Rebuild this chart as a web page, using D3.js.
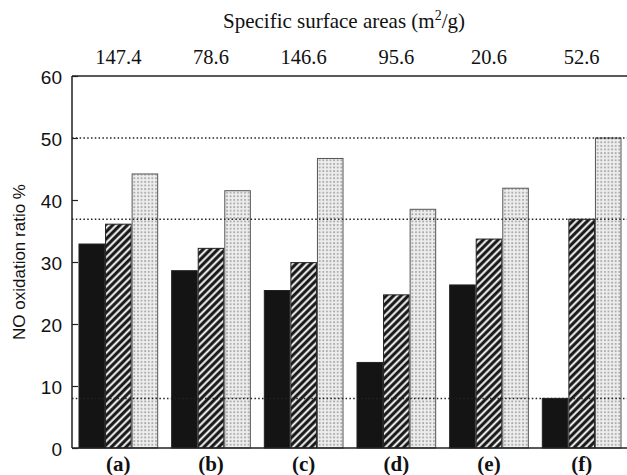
<!DOCTYPE html>
<html>
<head>
<meta charset="utf-8">
<script src="https://cdn.jsdelivr.net/npm/d3@7"></script>
<style>
  body { margin: 0; background: #fff; }
  svg { display: block; }
</style>
</head>
<body>
<svg id="chart" width="627" height="475"></svg>
<script>
// catalysts and their measured values
var samples = ["(a)", "(b)", "(c)", "(d)", "(e)", "(f)"];
var surfaceAreas = ["147.4", "78.6", "146.6", "95.6", "20.6", "52.6"];
var solidSeries = [32.9, 28.6, 25.4, 13.8, 26.3, 8.0];
var hatchSeries = [36.1, 32.2, 29.9, 24.7, 33.7, 36.9];
var dotSeries = [44.2, 41.5, 46.7, 38.5, 41.9, 50.0];
var refLines = [50.0, 36.9, 8.0];
var yTicks = [0, 10, 20, 30, 40, 50, 60];

var margin = {left: 72, top: 76, right: -1, bottom: 27};
var width = 627, height = 475;

var svg = d3.select("#chart");
var defs = svg.append("defs");

// diagonal stripes
var hatch = defs.append("pattern")
	.attr("id", "hatch")
	.attr("patternUnits", "userSpaceOnUse")
	.attr("width", 5.2)
	.attr("height", 5.2)
	.attr("patternTransform", "rotate(45)");
hatch.append("rect").attr("width", 5.2).attr("height", 5.2).attr("fill", "#fff");
hatch.append("rect").attr("x", 0).attr("width", 2.8).attr("height", 5.2).attr("fill", "#1a1a1a");
hatch.append("rect").attr("x", 2.8).attr("width", 0.6).attr("height", 5.2).attr("fill", "#888");
hatch.append("rect").attr("x", 4.6).attr("width", 0.6).attr("height", 5.2).attr("fill", "#888");

// grey dots
var dots = defs.append("pattern")
	.attr("id", "dots")
	.attr("patternUnits", "userSpaceOnUse")
	.attr("width", 3.6)
	.attr("height", 3.6);
dots.append("rect").attr("width", 3.6).attr("height", 3.6).attr("fill", "#eeeeee");
dots.append("rect").attr("x", 1).attr("y", 1).attr("width", 1.8).attr("height", 1.8).attr("fill", "#a8a8a8");

var x = d3.scaleBand()
	.domain(samples)
	.range([margin.left, width - margin.right])
	.paddingInner(0.14)
	.paddingOuter(0.07);

var series = ["solid", "hatch", "dot"];
var xs = d3.scaleBand()
	.domain(series)
	.range([0, x.bandwidth()]);

var y = d3.scaleLinear()
	.domain([0, 60])
	.range([height - margin.bottom, margin.top]);

var rows = samples.map(function(s, i){
	return {name: s, values: [solidSeries[i], hatchSeries[i], dotSeries[i]]};
});

var fills = {solid: "#141414", hatch: "url(#hatch)", dot: "url(#dots)"};
var strokes = {solid: "#222", hatch: "#222", dot: "#555"};

var groups = svg.selectAll("g.group")
	.data(rows)
	.enter().append("g")
	.attr("class", "group")
	.attr("transform", function(d){ return "translate(" + x(d.name) + ",0)"; });

groups.selectAll("rect")
	.data(function(d){ return d.values.map(function(v, k){ return {key: series[k], value: v}; }); })
	.enter().append("rect")
	.attr("x", function(d){ return xs(d.key) + 0.5; })
	.attr("y", function(d){ return y(d.value); })
	.attr("width", xs.bandwidth() - 1)
	.attr("height", function(d){ return y(0) - y(d.value); })
	.attr("fill", function(d){ return fills[d.key]; })
	.attr("stroke", function(d){ return strokes[d.key]; })
	.attr("stroke-width", 1);

// dotted reference lines
svg.selectAll("line.ref")
	.data(refLines)
	.enter().append("line")
	.attr("class", "ref")
	.attr("x1", margin.left)
	.attr("x2", width)
	.attr("y1", function(d){ return y(d); })
	.attr("y2", function(d){ return y(d); })
	.attr("stroke", "#222")
	.attr("stroke-width", 1.5)
	.attr("stroke-dasharray", "1.5,2.3");

// frame
var frame = svg.append("g").attr("fill", "none").attr("stroke", "#222").attr("stroke-width", 1.5);
frame.append("line").attr("x1", margin.left).attr("x2", width).attr("y1", y(60)).attr("y2", y(60));
frame.append("line").attr("x1", margin.left).attr("x2", width).attr("y1", y(0)).attr("y2", y(0));
frame.append("line").attr("x1", margin.left).attr("x2", margin.left).attr("y1", y(60)).attr("y2", y(0));

// y axis with inward ticks
var yAxis = svg.append("g")
	.attr("transform", "translate(" + margin.left + ",0)")
	.call(d3.axisLeft(y).tickValues(yTicks).tickSize(-6).tickPadding(10));
yAxis.select(".domain").remove();
yAxis.selectAll(".tick line").attr("stroke", "#222").attr("stroke-width", 1.2);
yAxis.selectAll(".tick text")
	.attr("font-family", "Liberation Sans, Arial, sans-serif")
	.attr("font-size", 19)
	.attr("fill", "#111")
	.attr("dy", "0.42em");

svg.append("text")
	.attr("transform", "translate(25," + ((y(0) + y(60)) / 2) + ") rotate(-90)")
	.attr("text-anchor", "middle")
	.attr("font-family", "Liberation Sans, Arial, sans-serif")
	.attr("font-size", 17)
	.attr("fill", "#111")
	.text("NO oxidation ratio %");

// sample labels below
svg.selectAll("text.sample")
	.data(samples)
	.enter().append("text")
	.attr("class", "sample")
	.attr("x", function(d){ return x(d) + x.bandwidth() / 2; })
	.attr("y", 471)
	.attr("text-anchor", "middle")
	.attr("font-family", "Liberation Serif, Times New Roman, serif")
	.attr("font-weight", "bold")
	.attr("font-size", 21)
	.attr("fill", "#111")
	.text(function(d){ return d; });

// surface areas on top
svg.selectAll("text.area")
	.data(surfaceAreas)
	.enter().append("text")
	.attr("class", "area")
	.attr("x", function(d, i){ return x(samples[i]) + x.bandwidth() / 2; })
	.attr("y", 64)
	.attr("text-anchor", "middle")
	.attr("font-family", "Liberation Serif, Times New Roman, serif")
	.attr("font-size", 20.5)
	.attr("fill", "#111")
	.text(function(d){ return d; });

var title = svg.append("text")
	.attr("x", 344)
	.attr("y", 28)
	.attr("text-anchor", "middle")
	.attr("font-family", "Liberation Serif, Times New Roman, serif")
	.attr("font-size", 21)
	.attr("fill", "#111");
title.append("tspan").text("Specific surface areas (m");
title.append("tspan").attr("font-size", 14).attr("dy", -8).text("2");
title.append("tspan").attr("dy", 8).text("/g)");
</script>
</body>
</html>
